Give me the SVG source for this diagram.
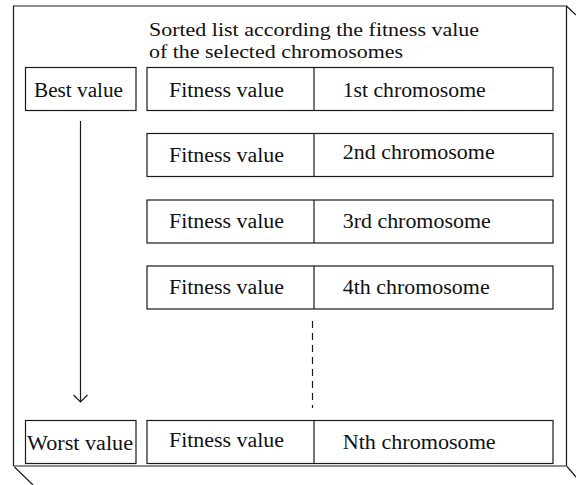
<svg xmlns="http://www.w3.org/2000/svg" width="576" height="485" viewBox="0 0 576 485">
<style>
  .box { fill: #ffffff; stroke: #1a1a1a; stroke-width: 1.2; }
  .lbl { font-family: "Liberation Serif", "Times New Roman", serif; font-size: 20px; fill: #111111; }
  .ttl { font-family: "Liberation Serif", "Times New Roman", serif; font-size: 18px; fill: #111111; }
  .ln { fill: none; stroke: #1a1a1a; stroke-width: 1.2; }
</style>
<rect width="576" height="485" fill="#ffffff"/>
<g id="frame">
  <path class="ln" d="M13.5,466 L13.5,6 L566.5,6 L566.5,466" stroke-width="1.5"/>
  <path class="ln" d="M13.5,466 L567,466" stroke-width="2.5"/>
  <path class="ln" d="M566.5,6 L576,15"/>
  <path class="ln" d="M567,466.5 L576,477"/>
  <path class="ln" d="M14.5,467 L33,485"/>
</g>
<g id="title">
  <text class="ttl" x="149" y="35.7" textLength="330" lengthAdjust="spacingAndGlyphs">Sorted list according the fitness value</text>
  <text class="ttl" x="149" y="58.3" textLength="254" lengthAdjust="spacingAndGlyphs">of the selected chromosomes</text>
</g>
<g id="best">
  <rect class="box" x="25.5" y="67.5" width="110.5" height="43"/>
  <text class="lbl" x="34" y="97" textLength="89" lengthAdjust="spacingAndGlyphs">Best value</text>
</g>
<g id="worst">
  <rect class="box" x="25.5" y="420.5" width="110.5" height="43"/>
  <text class="lbl" x="27" y="450" textLength="106" lengthAdjust="spacingAndGlyphs">Worst value</text>
</g>
<g id="row1">
  <rect class="box" x="147" y="67.5" width="406" height="43"/>
  <line class="ln" x1="314" y1="67.5" x2="314" y2="110.5"/>
  <text class="lbl" x="169" y="97" textLength="115" lengthAdjust="spacingAndGlyphs">Fitness value</text>
  <text class="lbl" x="342.7" y="96.7" textLength="143" lengthAdjust="spacingAndGlyphs">1st chromosome</text>
</g>
<g id="row2">
  <rect class="box" x="147" y="133.5" width="406" height="43"/>
  <line class="ln" x1="314" y1="133.5" x2="314" y2="176.5"/>
  <text class="lbl" x="169" y="161.5" textLength="115" lengthAdjust="spacingAndGlyphs">Fitness value</text>
  <text class="lbl" x="342.7" y="158.5" textLength="152" lengthAdjust="spacingAndGlyphs">2nd chromosome</text>
</g>
<g id="row3">
  <rect class="box" x="147" y="200" width="406" height="43"/>
  <line class="ln" x1="314" y1="200" x2="314" y2="243"/>
  <text class="lbl" x="169" y="228" textLength="115" lengthAdjust="spacingAndGlyphs">Fitness value</text>
  <text class="lbl" x="342.7" y="228" textLength="148" lengthAdjust="spacingAndGlyphs">3rd chromosome</text>
</g>
<g id="row4">
  <rect class="box" x="147" y="266" width="406" height="43"/>
  <line class="ln" x1="314" y1="266" x2="314" y2="309"/>
  <text class="lbl" x="169" y="293.5" textLength="115" lengthAdjust="spacingAndGlyphs">Fitness value</text>
  <text class="lbl" x="342.7" y="294" textLength="147" lengthAdjust="spacingAndGlyphs">4th chromosome</text>
</g>
<g id="rowN">
  <rect class="box" x="147" y="420.5" width="406" height="43"/>
  <line class="ln" x1="314" y1="420.5" x2="314" y2="463.5"/>
  <text class="lbl" x="169" y="447" textLength="115" lengthAdjust="spacingAndGlyphs">Fitness value</text>
  <text class="lbl" x="342.7" y="449" textLength="153" lengthAdjust="spacingAndGlyphs">Nth chromosome</text>
</g>
<g id="connectors">
  <line class="ln" x1="80.5" y1="121" x2="80.5" y2="402"/>
  <path class="ln" d="M73.5,395 L80.5,402 L87.5,395"/>
  <line class="ln" x1="312.5" y1="321" x2="312.5" y2="408" stroke-dasharray="7 5"/>
</g>
</svg>
